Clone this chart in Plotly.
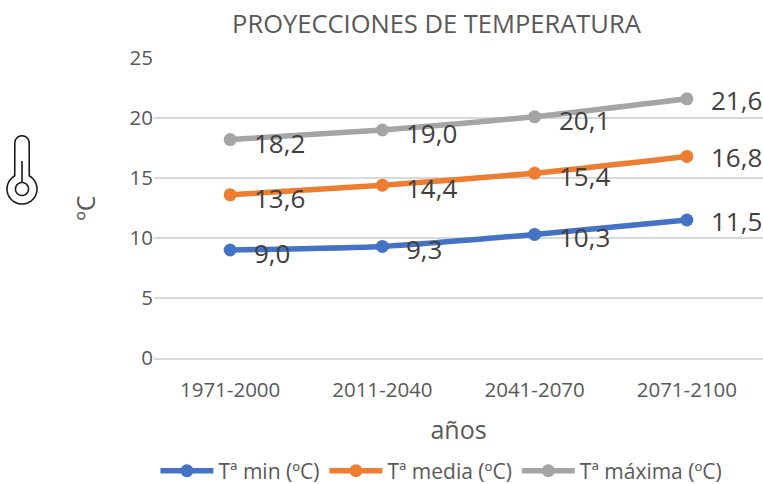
import math
import plotly.graph_objects as go

periods = ["1971-2000", "2011-2040", "2041-2070", "2071-2100"]
t_min = [9.0, 9.3, 10.3, 11.5]
t_media = [13.6, 14.4, 15.4, 16.8]
t_max = [18.2, 19.0, 20.1, 21.6]
series = [("Tª min (ºC)", t_min, "#4472C4"), ("Tª media (ºC)", t_media, "#ED7D31"), ("Tª máxima (ºC)", t_max, "#A5A5A5")]
FONT = "Open Sans"
W, H = 763, 484
L, R, T, B = 154, 0, 58, 126

def px(x, y):
    return (x - L) / (W - L - R), 1 - (y - T) / (H - T - B)

def path(points, close=False):
    parts = []
    for i, (x, y) in enumerate(points):
        a, b = px(x, y)
        parts.append(("M" if i == 0 else "L") + f"{a:.5f},{b:.5f}")
    return " ".join(parts) + (" Z" if close else "")

def arc(cx, cy, r, a0, a1, n=48):
    return [(cx + r * math.cos(math.radians(a0 + (a1 - a0) * k / n)),
             cy + r * math.sin(math.radians(a0 + (a1 - a0) * k / n))) for k in range(n + 1)]

fig = go.Figure()
for name, vals, col in series:
    fig.add_trace(go.Scatter(x=periods, y=vals, name=name, mode="lines+markers",
                             line=dict(color=col, width=5.5, shape="spline", smoothing=0.5),
                             marker=dict(color=col, size=13)))
ann = []
for name, vals, col in series:
    for i, (p, v) in enumerate(zip(periods, vals)):
        last = i == len(periods) - 1
        ann.append(dict(x=p, y=v, xref="x", yref="y", text=f"{v:.1f}".replace(".", ","), showarrow=False,
                        xanchor="left", yanchor="middle", xshift=22, yshift=-1 if last else -3,
                        font=dict(family=FONT, size=26, color="#404040")))

outline = arc(22, 143, 7.2, 180, 360) + arc(22, 189, 15, -61, 241)
stroke = dict(color="#1a1a1a", width=1.6)
shapes = [
    dict(type="path", xref="paper", yref="paper", path=path(outline, True), line=stroke),
    dict(type="path", xref="paper", yref="paper", path=path(arc(22, 189, 6.5, 0, 360), True), line=stroke),
    dict(type="path", xref="paper", yref="paper", path=path([(22, 161), (22, 182.5)]), line=stroke),
]
fig.update_layout(
    width=W, height=H, autosize=False, paper_bgcolor="white", plot_bgcolor="white",
    margin=dict(l=L, r=R, t=T, b=B, autoexpand=False),
    font=dict(family=FONT, color="#595959"),
    title=dict(text="PROYECCIONES DE TEMPERATURA", x=0.572, xanchor="center", y=0.95, yanchor="middle",
               font=dict(size=25.5, color="#595959")),
    annotations=ann, shapes=shapes,
    xaxis=dict(title=dict(text="años", font=dict(size=25), standoff=20), type="category", range=[-0.5, 3.5],
               automargin=False, ticklabelstandoff=12,
               showgrid=False, zeroline=False, showline=True, linecolor="#D9D9D9", linewidth=2, tickfont=dict(size=20.5), ticks=""),
    yaxis=dict(title=dict(text="ºC", font=dict(size=25), standoff=26), range=[0, 25], dtick=5, showgrid=True, automargin=False,
               gridcolor="#D9D9D9", gridwidth=2, zeroline=False, tickfont=dict(size=20.5), ticks=""),
    legend=dict(orientation="h", x=0.472, xanchor="center", y=-0.377, yanchor="middle", font=dict(size=21),
                itemwidth=53, traceorder="normal", entrywidth=0),
)
fig.write_html("out.html", default_width=f"{W}px", default_height=f"{H}px",
               config=dict(displayModeBar=False),
               post_script="document.body.style.margin='0';")
